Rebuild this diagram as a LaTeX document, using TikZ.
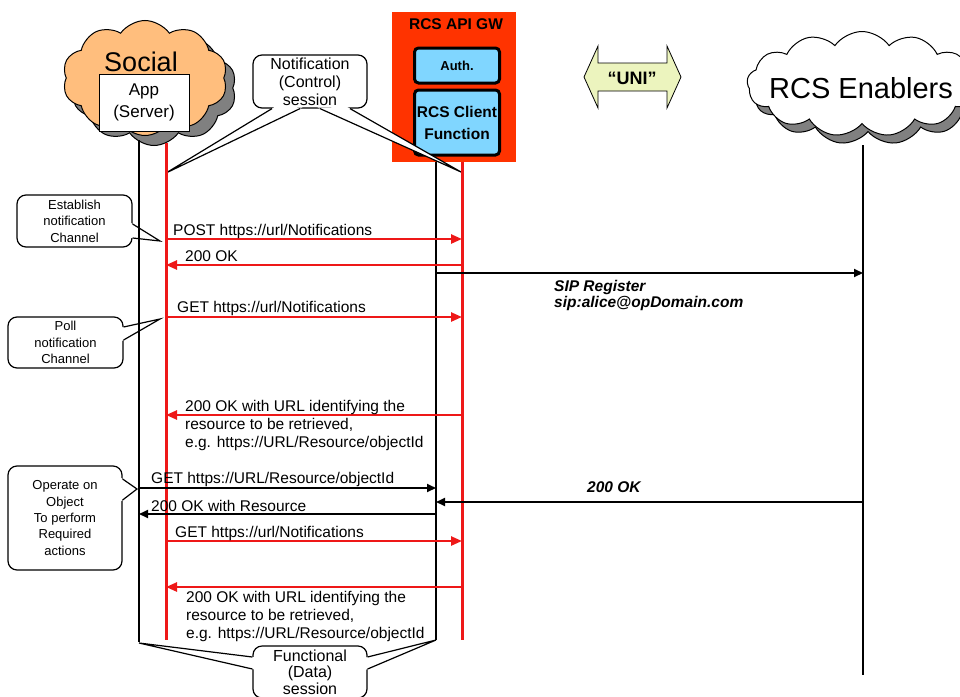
\documentclass[tikz,border=0pt]{standalone}
\usepackage{fontspec}
\setmainfont{Liberation Sans}
\usetikzlibrary{arrows.meta}
\usetikzlibrary{shapes.symbols}
\usetikzlibrary{shadows}
\usetikzlibrary{calc}

\definecolor{socialorange}{RGB}{255,190,125}
\definecolor{gwred}{RGB}{255,51,0}
\definecolor{authblue}{RGB}{128,214,255}
\definecolor{unigreen}{RGB}{236,244,190}
\definecolor{linered}{RGB}{238,24,24}
\definecolor{shadowgray}{RGB}{128,128,128}

\newcommand{\fs}[2]{\fontsize{#1}{#2}\selectfont}

\tikzset{
  lifeblack/.style={line width=1.3pt},
  lifered/.style={linered,line width=3pt},
  redmsg/.style={linered,line width=2.4pt,-{Triangle[length=11pt,width=9pt]}},
  blackmsg/.style={line width=1.8pt,-{Triangle[length=9pt,width=8pt]}},
  msg/.style={anchor=base west,inner sep=0pt,font=\fs{15.5}{18}},
  msgmulti/.style={anchor=north west,inner sep=0pt,align=left,font=\fs{15.5}{18}},
  sipmsg/.style={anchor=north west,inner sep=0pt,align=left,font=\fs{15.5}{16}\bfseries\itshape},
  notebox/.style={draw,fill=white,rounded corners=9pt,line width=1.2pt,align=center,inner sep=0pt},
  pointer/.style={line width=1.2pt},
  gwbox/.style={draw,line width=3pt,fill=authblue,rounded corners=4pt,minimum width=85pt,align=center,inner sep=0pt,font=\fs{15.5}{22}\bfseries},
  cloudy/.style={cloud,draw,line width=1pt,cloud puff arc=110,inner sep=0pt},
}

% pointer of a note: base point, base point, tip
\newcommand{\notepointer}[3]{%
  \fill[white] (#3) -- ($(#1)!-3pt!(#3)$) -- ($(#2)!-3pt!(#3)$) -- cycle;
  \draw[pointer] (#1) -- (#3) -- (#2);
}

\begin{document}
\begin{tikzpicture}[x=1pt,y=-1pt]
        \path[use as bounding box,fill=white] (0,0) rectangle (960,696);

        % draw the clouds
        \node[cloudy,fill=socialorange,cloud puffs=10,minimum width=165pt,minimum height=115pt,
              drop shadow={shadow xshift=9pt,shadow yshift=-10pt,fill=shadowgray,draw=black,opacity=1}] (social) at (145,78) {};
        \node[font=\fs{27}{30},anchor=base,inner sep=0pt] (socialtxt) at (141,71) {Social};
        \node[draw,fill=white,line width=0.8pt,minimum width=90pt,minimum height=57pt,align=center,
              inner sep=0pt,font=\fs{17}{22}] (app) at (144,102.5) {App\\(Server)};

        \node[cloudy,fill=white,cloud puffs=13,minimum width=230pt,minimum height=105pt,
              drop shadow={shadow xshift=6pt,shadow yshift=-8pt,fill=shadowgray,draw=black,opacity=1}] (rcs) at (862,84) {};
        \node[font=\fs{29}{32},anchor=base west,inner sep=0pt] (rcstxt) at (769,98) {RCS Enablers};

        % draw the gateway
        \node[fill=gwred,minimum width=124pt,minimum height=150pt,inner sep=0pt] (gw) at (454,87) {};
        \node[font=\fs{15.5}{18}\bfseries,anchor=base,inner sep=0pt] (gwtxt) at (456,29) {RCS API GW};
        \node[gwbox,minimum height=35pt,font=\fs{13}{15}\bfseries] (auth) at (457,65.5) {Auth.};
        \node[gwbox,minimum height=65pt] (client) at (457,122.5) {RCS Client\\Function};

        % draw the UNI arrow
        \draw[fill=unigreen,line width=0.8pt] (584,77) -- (598,46) -- (598,63) -- (667,63) -- (667,46)
              -- (681,77) -- (667,108) -- (667,91) -- (598,91) -- (598,108) -- cycle;
        \node[font=\fs{18}{20}\bfseries,inner sep=0pt] (uni) at (632,78) {“UNI”};

        % draw the notes
        \node[notebox,minimum width=114pt,minimum height=53pt,font=\fs{16}{18}] (ctl) at (310,81.5) {Notification\\(Control)\\session};
        \coordinate (ctlA) at (ctl.south -| 272,0);
        \coordinate (ctlB) at (ctl.south -| 300,0);
        \coordinate (ctlC) at (ctl.south -| 320,0);
        \coordinate (ctlD) at (ctl.south -| 350,0);
        \coordinate (ctltipL) at (166,173);
        \coordinate (ctltipR) at (461,172);
        \notepointer{ctlA}{ctlB}{ctltipL}
        \notepointer{ctlC}{ctlD}{ctltipR}

        \node[notebox,minimum width=115pt,minimum height=52pt,font=\fs{13}{16.5}] (estab) at (74.5,221) {Establish\\notification\\Channel};
        \coordinate (estabA) at (estab.east |- 0,224);
        \coordinate (estabB) at (estab.east |- 0,238);
        \coordinate (estabtip) at (160,241);
        \notepointer{estabA}{estabB}{estabtip}

        \node[notebox,minimum width=115pt,minimum height=51pt,font=\fs{13}{16.5}] (poll) at (65.5,342.5) {Poll\\notification\\Channel};
        \coordinate (pollA) at (poll.east |- 0,327);
        \coordinate (pollB) at (poll.east |- 0,340);
        \coordinate (polltip) at (160,319);
        \notepointer{pollA}{pollB}{polltip}

        \node[notebox,minimum width=114pt,minimum height=104pt,font=\fs{13}{16.3}] (oper) at (65,518) {Operate on\\Object\\To perform\\Required\\actions};
        \coordinate (operA) at (oper.east |- 0,479);
        \coordinate (operB) at (oper.east |- 0,500);
        \coordinate (opertip) at (137,489);
        \notepointer{operA}{operB}{opertip}

        \node[notebox,minimum width=114pt,minimum height=52pt,font=\fs{16}{16.5}] (fun) at (310,672) {Functional\\(Data)\\session};
        \coordinate (funA) at (fun.west |- 0,657);
        \coordinate (funB) at (fun.west |- 0,669);
        \coordinate (funC) at (fun.east |- 0,657);
        \coordinate (funD) at (fun.east |- 0,669);
        \coordinate (funtipL) at (139,643);
        \coordinate (funtipR) at (436,640);
        \notepointer{funA}{funB}{funtipL}
        \notepointer{funC}{funD}{funtipR}

        % draw the lifelines
        \coordinate (appK) at (139,140);
        \coordinate (appR) at (166,143);
        \coordinate (gwK) at (436,162);
        \coordinate (gwR) at (462,162);
        \coordinate (rcsK) at (863,145);
        \draw[lifeblack] (appK) -- (appK |- 0,642);
        \draw[lifered] (appR) -- (appR |- 0,640);
        \draw[lifeblack] (gwK) -- (gwK |- 0,640);
        \draw[lifered] (gwR) -- (gwR |- 0,640);
        \draw[lifeblack] (rcsK) -- (rcsK |- 0,675);

        % draw the messages
        \foreach \y in {239,317,541}
                \draw[redmsg] (appR |- 0,\y) -- (gwR |- 0,\y);
        \foreach \y in {265,415,587}
                \draw[redmsg] (gwR |- 0,\y) -- (appR |- 0,\y);
        \draw[blackmsg] (gwK |- 0,273) -- (rcsK |- 0,273);
        \draw[blackmsg] (appK |- 0,488) -- (gwK |- 0,488);
        \draw[blackmsg] (rcsK |- 0,502) -- (gwK |- 0,502);
        \draw[blackmsg] (gwK |- 0,514) -- (appK |- 0,514);

        % message texts
        \node[msg] (post) at (173,235) {POST https://url/Notifications};
        \node[msg] (okA) at (185,261) {200 OK};
        \node[sipmsg] (sip) at (554,280.5) {SIP Register\\sip:alice@opDomain.com};
        \node[msg] (getA) at (177,312.5) {GET https://url/Notifications};
        \node[msgmulti] (urlA) at (185,400.5) {200 OK with URL identifying the\\resource to be retrieved,\\e.g. https://URL/Resource/objectId};
        \node[msg] (getobj) at (151,483) {GET https://URL/Resource/objectId};
        \node[msg,font=\fs{15.5}{18}\bfseries\itshape] (okB) at (587,492) {200 OK};
        \node[msg] (res) at (151,511) {200 OK with Resource};
        \node[msg] (getB) at (175,537) {GET https://url/Notifications};
        \node[msgmulti] (urlB) at (186,591.5) {200 OK with URL identifying the\\resource to be retrieved,\\e.g. https://URL/Resource/objectId};
\end{tikzpicture}
\end{document}
